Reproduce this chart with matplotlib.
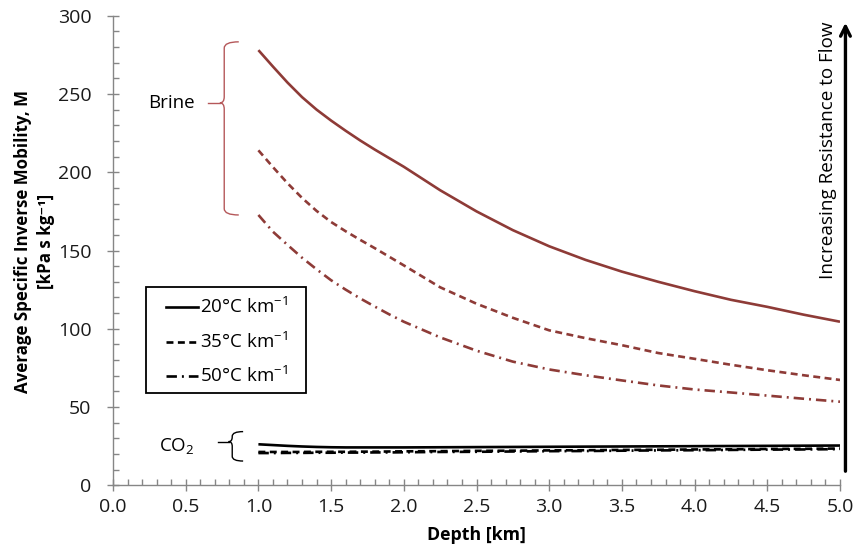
import matplotlib
matplotlib.use("Agg")
import matplotlib.pyplot as plt
from matplotlib.lines import Line2D
from matplotlib.path import Path
from matplotlib.patches import PathPatch, Rectangle
from matplotlib.ticker import MultipleLocator

plt.rcParams['font.family'] = ['Open Sans', 'DejaVu Sans']
plt.rcParams['mathtext.fontset'] = 'custom'
plt.rcParams['mathtext.rm'] = 'Open Sans'
plt.rcParams['mathtext.bf'] = 'Open Sans:bold'
plt.rcParams['lines.scale_dashes'] = False

# Depth [km]
depth = [1.0, 1.1, 1.2, 1.3, 1.4, 1.5, 1.6, 1.7, 1.8, 1.9, 2.0,
         2.25, 2.5, 2.75, 3.0, 3.25, 3.5, 3.75, 4.0, 4.25, 4.5, 4.75, 5.0]

# Brine average specific inverse mobility [kPa s kg^-1]
brine_20 = [278, 267.5, 257.3, 248, 240, 233, 226.5, 220.3, 214.5, 209, 203.5,
            188.5, 175, 163, 152.7, 144, 136.5, 130, 124, 118.5, 114, 109, 104.5]
brine_35 = [214, 203.3, 193, 183.6, 175.3, 168.2, 162.3, 156.8, 151.5, 146, 140.5,
            126.5, 116, 107, 99, 94, 89.5, 84.5, 80.8, 77, 73.5, 70.3, 67.3]
brine_50 = [172.7, 162, 153.6, 145.4, 138, 131, 125, 119.4, 114.2, 109.2, 104.5,
            94.5, 86, 79, 74, 70.3, 67, 63.8, 61.2, 59.3, 57.3, 55.3, 53.4]

# CO2 average specific inverse mobility [kPa s kg^-1]
co2_20 = [26.2, 25.7, 25.2, 24.8, 24.5, 24.3, 24.2, 24.2, 24.2, 24.2, 24.2,
          24.3, 24.4, 24.5, 24.6, 24.7, 24.8, 24.9, 25.0, 25.1, 25.2, 25.3, 25.4]
co2_35 = [21.3, 21.3, 21.3, 21.3, 21.4, 21.4, 21.4, 21.5, 21.5, 21.6, 21.7,
          21.8, 22.0, 22.1, 22.3, 22.4, 22.6, 22.7, 22.9, 23.0, 23.2, 23.3, 23.5]
co2_50 = [20.6, 20.6, 20.7, 20.7, 20.8, 20.8, 20.9, 20.9, 21.0, 21.0, 21.1,
          21.3, 21.4, 21.6, 21.8, 21.9, 22.1, 22.3, 22.4, 22.6, 22.8, 22.9, 23.1]

gradient_labels = ['20°C km$^{-1}$', '35°C km$^{-1}$', '50°C km$^{-1}$']

BRINE = '#8e3b37'
BRACE_BRINE = '#b5585a'
AXIS_GREY = '#868686'
TEXT = '#1a1a1a'

dashed = (0, (5.0, 3.2))
dashdot = (0, (7.5, 3.6, 1.4, 3.6))
styles = ['-', dashed, dashdot]

W, H = 856, 555
fig = plt.figure(figsize=(W / 100, H / 100), dpi=100)
AX_L, AX_R, AX_T, AX_B = 113, 840, 15.7, 485.3
ax = fig.add_axes([AX_L / W, 1 - AX_B / H, (AX_R - AX_L) / W, (AX_B - AX_T) / H])


def afx(px):
    return (px - AX_L) / (AX_R - AX_L)


def afy(py):
    return (AX_B - py) / (AX_B - AX_T)


for ys, ls in zip([brine_20, brine_35, brine_50], styles):
    ax.plot(depth, ys, color=BRINE, lw=1.9, ls=ls, solid_capstyle='butt', dash_capstyle='butt')
for ys, ls in zip([co2_20, co2_35, co2_50], styles):
    ax.plot(depth, ys, color='black', lw=1.9, ls=ls, solid_capstyle='butt', dash_capstyle='butt')

ax.set_xlim(0, 5)
ax.set_ylim(0, 300)
ax.xaxis.set_major_locator(MultipleLocator(0.5))
ax.xaxis.set_minor_locator(MultipleLocator(0.1))
ax.yaxis.set_major_locator(MultipleLocator(50))
ax.yaxis.set_minor_locator(MultipleLocator(10))
ax.xaxis.set_major_formatter(plt.FuncFormatter(lambda v, p: f'{v:.1f}'))
ax.yaxis.set_major_formatter(plt.FuncFormatter(lambda v, p: f'{v:.0f}'))

for s in ['top', 'right']:
    ax.spines[s].set_visible(False)
for s in ['left', 'bottom']:
    ax.spines[s].set_color(AXIS_GREY)
    ax.spines[s].set_linewidth(1.0)

ax.tick_params(which='major', direction='inout', length=9, width=1.0, color=AXIS_GREY,
               labelsize=14, labelcolor=TEXT)
ax.tick_params(axis='x', which='major', pad=5)
ax.tick_params(axis='y', which='major', pad=11)
ax.tick_params(which='minor', direction='in', length=4.5, width=1.0, color=AXIS_GREY)

ax.set_xlabel('Depth [km]', fontsize=12.8, fontweight='bold', color='black', labelpad=7)
ax.set_ylabel('Average Specific Inverse Mobility, M\n[kPa s kg\u207b\u00b9]',
              fontsize=12.2, fontweight='bold', color='black', linespacing=1.35)
ax.yaxis.set_label_coords(afx(55), 0.52)


def brace(x_tip, x_spine, x_arm, y_low, y_high, y_mid, x_lead, cy, color, lw=1.0):
    """Draw a left-facing curly brace with a short leader line at its point."""
    verts = [
        (x_arm, y_high), (x_spine, y_high), (x_spine, y_high - cy),
        (x_spine, y_mid + cy), (x_spine, y_mid), (x_tip, y_mid),
        (x_spine, y_mid), (x_spine, y_mid - cy),
        (x_spine, y_low + cy), (x_spine, y_low), (x_arm, y_low),
    ]
    codes = [Path.MOVETO, Path.CURVE3, Path.CURVE3,
             Path.LINETO, Path.CURVE3, Path.CURVE3,
             Path.CURVE3, Path.CURVE3,
             Path.LINETO, Path.CURVE3, Path.CURVE3]
    ax.add_patch(PathPatch(Path(verts, codes), fill=False, edgecolor=color, lw=lw,
                           clip_on=False, capstyle='butt'))
    ax.plot([x_lead, x_tip], [y_mid, y_mid], color=color, lw=lw, clip_on=False)


brace(0.735, 0.765, 0.865, 172.7, 283.3, 244.3, 0.655, 4.0, BRACE_BRINE)
brace(0.795, 0.820, 0.895, 15.5, 34.3, 27.9, 0.725, 3.0, 'black')

ax.text(0.405, 244.3, 'Brine', fontsize=13.5, color='black', ha='center', va='center')
ax.text(0.44, 24.5, 'CO$_2$', fontsize=13.5, color='black', ha='center', va='center')

# Legend box for the geothermal gradients
ax.add_patch(Rectangle((afx(145.7), afy(392.7)), afx(305.7) - afx(145.7),
                       afy(286.7) - afy(392.7), transform=ax.transAxes,
                       fill=True, facecolor='white', edgecolor='black', lw=1.3, zorder=5))
for row_y, ls, lab in zip([306.7, 341.5, 376.0], styles, gradient_labels):
    ax.add_line(Line2D([afx(166), afx(198)], [afy(row_y), afy(row_y)], transform=ax.transAxes,
                       color='black', lw=1.9, ls=ls, zorder=6, dash_capstyle='butt'))
    ax.text(afx(200), afy(row_y), lab, transform=ax.transAxes, fontsize=13.5,
            ha='left', va='center', color='black', zorder=6)

# Arrow to the right of the plotting area
ax.annotate('', xy=(1.0075, 0.985), xytext=(1.0075, 0.03), xycoords='axes fraction',
            textcoords='axes fraction',
            arrowprops=dict(arrowstyle='->, head_length=0.7, head_width=0.35',
                            lw=2.4, color='black', shrinkA=0, shrinkB=0))
ax.text(0.9835, 0.713, 'Increasing Resistance to Flow', transform=ax.transAxes,
        rotation=90, ha='center', va='center', fontsize=13.6, color='black')

fig.savefig('out.png', dpi=100)
